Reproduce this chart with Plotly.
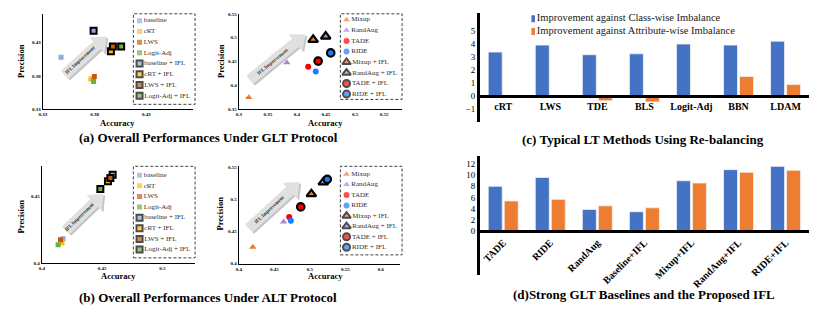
import math
import plotly.graph_objects as go

W, H = 830, 312
SERIF = "Liberation Serif"

# ---------------- DATA ----------------
sq_methods = ["baseline", "cRT", "LWS", "Logit-Adj",
              "baseline + IFL", "cRT + IFL", "LWS + IFL", "Logit-Adj + IFL"]
aug_methods = ["Mixup", "RandAug", "TADE", "RIDE",
               "Mixup + IFL", "RandAug + IFL", "TADE + IFL", "RIDE + IFL"]

# (a) GLT protocol
glt_sq_acc = [0.3476, 0.3764, 0.3797, 0.3790, 0.3790, 0.3957, 0.3976, 0.4056]
glt_sq_prec = [0.4080, 0.3752, 0.3790, 0.3717, 0.4476, 0.4168, 0.4241, 0.4241]
glt_aug_acc = [0.3170, 0.3827, 0.4194, 0.4324, 0.4279, 0.4495, 0.4365, 0.4581]
glt_aug_prec = [0.3747, 0.4475, 0.4393, 0.4290, 0.4958, 0.5026, 0.4510, 0.4681]

# (b) ALT protocol
alt_sq_acc = [0.4176, 0.4168, 0.4155, 0.4135, 0.4587, 0.4548, 0.4568, 0.4485]
alt_sq_prec = [0.4179, 0.4147, 0.4171, 0.4135, 0.4657, 0.4608, 0.4632, 0.4551]
alt_aug_acc = [0.4196, 0.4629, 0.4709, 0.4732, 0.5021, 0.5189, 0.4871, 0.5245]
alt_aug_prec = [0.4260, 0.4654, 0.4730, 0.4671, 0.5087, 0.5271, 0.4888, 0.5317]

# (c) re-balancing methods
lt_methods = ["cRT", "LWS", "TDE", "BLS", "Logit-Adj", "BBN", "LDAM"]
class_impr = [3.38, 3.92, 3.18, 3.25, 4.0, 3.92, 4.22]
attr_impr = [-0.15, 0.0, -0.37, -0.45, 0.0, 1.5, 0.88]
bar_series_c = ["Improvement against Class-wise Imbalance",
                "Improvement against Attribute-wise Imbalance"]

# (d) strong GLT baselines and IFL
glt_methods_d = ["TADE", "RIDE", "RandAug", "Baseline+IFL", "Mixup+IFL", "RandAug+IFL", "RIDE+IFL"]
class_d = [7.96, 9.52, 3.87, 3.46, 8.94, 10.9, 11.48]
attr_d = [5.37, 5.65, 4.5, 4.15, 8.54, 10.44, 10.79]

titles = ["(a) Overall Performances Under GLT Protocol",
          "(b) Overall Performances Under ALT Protocol",
          "(c) Typical LT Methods Using Re-balancing",
          "(d)Strong GLT Baselines and the Proposed IFL"]

# ---------------- STYLE ----------------
SQ_COLORS = ["#8FAADC", "#FFC000", "#C55A11", "#70AD47"]
AUG_COLORS = ["#ED7D31", "#B084DD", "#FF0000", "#1E7BFF"]
AUG_SYMBOLS = ["triangle-up", "triangle-up", "circle", "circle"]
BLUE, ORANGE = "#4472C4", "#ED7D31"


def px(x):
    return x / W


def py(y):
    return 1 - y / H


def sq_style():
    return (["square"] * 8, SQ_COLORS * 2, [5] * 4 + [6] * 4, [0] * 4 + [2] * 4)


def aug_style():
    return (AUG_SYMBOLS * 2, AUG_COLORS * 2,
            [6.5, 6.5, 6, 6, 8.5, 8.5, 7.5, 7.5],
            [0, 0, 0, 0, 2.2, 2.2, 2.2, 2.2])


fig = go.Figure()
layout = dict(width=W, height=H, margin=dict(l=0, r=0, t=0, b=0),
              paper_bgcolor="white", plot_bgcolor="rgba(0,0,0,0)",
              showlegend=False, font=dict(family=SERIF, color="black"),
              bargap=0.32, bargroupgap=0.125)
shapes, annotations = [], []

scatter_panels = [
    dict(i=1, xd=(39, 190), yd=(12, 109), xr=(0.33, 0.475), yr=(0.33, 0.473),
         xt=[0.33, 0.38, 0.43], yt=[0.33, 0.38, 0.43],
         xs=glt_sq_acc, ys=glt_sq_prec, kind="sq", names=sq_methods,
         leg=(130, 192, 12, 104), leg_first=19, leg_step=10.9,
         arrow=((61, 74), (103, 35)), acc=(114, 123), prec=(17, 60)),
    dict(i=2, xd=(236, 400), yd=(12, 109), xr=(0.3, 0.581), yr=(0.35, 0.55),
         xt=[0.3, 0.35, 0.4, 0.45, 0.5, 0.55], yt=[0.35, 0.4, 0.45, 0.5, 0.55],
         xs=glt_aug_acc, ys=glt_aug_prec, kind="aug", names=aug_methods,
         leg=(338, 400, 12, 99), leg_first=18, leg_step=10.8,
         arrow=((247, 79), (303, 33)), acc=(323, 123), prec=(218, 60)),
    dict(i=3, xd=(38, 192), yd=(167, 265), xr=(0.4, 0.527), yr=(0.4, 0.472),
         xt=[0.4, 0.45, 0.5], yt=[0.4, 0.45],
         xs=alt_sq_acc, ys=alt_sq_prec, kind="sq", names=sq_methods,
         leg=(130, 192, 167, 260), leg_first=176, leg_step=10.8,
         arrow=((62, 232), (100, 195)), acc=(115, 278), prec=(17, 218)),
    dict(i=4, xd=(236, 398), yd=(167, 266), xr=(0.4, 0.627), yr=(0.4, 0.552),
         xt=[0.4, 0.45, 0.5, 0.55, 0.6], yt=[0.4, 0.45, 0.5, 0.55],
         xs=alt_aug_acc, ys=alt_aug_prec, kind="aug", names=aug_methods,
         leg=(338, 400, 167, 257), leg_first=175, leg_step=10.6,
         arrow=((246, 230), (297, 183)), acc=(323, 278), prec=(217, 215)),
]

tickfont_sc = dict(family=SERIF, size=5, color="black", weight="bold")
axtitle_font = dict(family=SERIF, size=8.5, color="black")

for p in scatter_panels:
    i = p["i"]
    sym, col, size, lw = sq_style() if p["kind"] == "sq" else aug_style()
    fig.add_trace(go.Scatter(
        x=p["xs"], y=p["ys"], mode="markers", xaxis=f"x{i}", yaxis=f"y{i}",
        marker=dict(symbol=sym, color=col, size=size, opacity=1,
                    line=dict(color="black", width=lw)),
        hoverinfo="skip"))
    layout[f"xaxis{i}"] = dict(
        domain=[px(p["xd"][0]), px(p["xd"][1])], anchor=f"y{i}",
        range=list(p["xr"]), tickvals=p["xt"], showline=True, linecolor="black",
        linewidth=1.3, showgrid=False, zeroline=False, ticks="",
        tickfont=tickfont_sc)
    layout[f"yaxis{i}"] = dict(
        domain=[py(p["yd"][1]), py(p["yd"][0])], anchor=f"x{i}",
        range=list(p["yr"]), tickvals=p["yt"], showline=True, linecolor="black",
        linewidth=1.3, showgrid=False, zeroline=False, ticks="",
        tickfont=tickfont_sc)
    # axis titles
    annotations.append(dict(x=px(p["acc"][0]), y=py(p["acc"][1]), xref="paper", yref="paper",
                            xanchor="center", yanchor="middle", showarrow=False,
                            text="<b>Accuracy</b>", font=axtitle_font))
    annotations.append(dict(x=px(p["prec"][0]), y=py(p["prec"][1]), xref="paper", yref="paper",
                            xanchor="center", yanchor="middle", showarrow=False, textangle=-90,
                            text="<b>Precision</b>", font=axtitle_font))

    # arrow "IFL Improvement"
    (x0, y0), (x1, y1) = p["arrow"]
    L = math.hypot(x1 - x0, y1 - y0)
    ux, uy = (x1 - x0) / L, (y1 - y0) / L
    nx, ny = -uy, ux
    sw, hw, hl = 5.5, 11, 13
    bx, by = x1 - ux * hl, y1 - uy * hl
    pts = [(x0 + nx * sw, y0 + ny * sw), (bx + nx * sw, by + ny * sw),
           (bx + nx * hw, by + ny * hw), (x1, y1),
           (bx - nx * hw, by - ny * hw), (bx - nx * sw, by - ny * sw),
           (x0 - nx * sw, y0 - ny * sw)]
    for off, fill in ((1.6, "#C4C4C4"), (0, "#E0E0E0")):
        path = "M " + " L ".join(f"{px(a + off):.5f},{py(b + off):.5f}" for a, b in pts) + " Z"
        shapes.append(dict(type="path", path=path, xref="paper", yref="paper",
                           fillcolor=fill, line=dict(width=0), layer="below"))
    mx, my = x0 + ux * (L - hl) / 2, y0 + uy * (L - hl) / 2
    ang = math.degrees(math.atan2(y1 - y0, x1 - x0))
    annotations.append(dict(x=px(mx), y=py(my), xref="paper", yref="paper",
                            xanchor="center", yanchor="middle",
                            text="<b>IFL Improvement</b>", showarrow=False,
                            textangle=ang, font=dict(family=SERIF, size=5, color="#303030")))

    # custom legend (dashed box)
    lx0, lx1, ly0, ly1 = p["leg"]
    j = i + 6
    n = len(p["names"])
    top_i = (ly0 - p["leg_first"]) / p["leg_step"]
    bot_i = (ly1 - p["leg_first"]) / p["leg_step"]
    fig.add_trace(go.Scatter(
        x=[0.1] * n, y=list(range(n)), mode="markers+text", text=p["names"],
        textposition="middle right", xaxis=f"x{j}", yaxis=f"y{j}",
        textfont=dict(family=SERIF, size=7, color="#303030"),
        marker=dict(symbol=sym, color=col,
                    size=[5] * 4 + [6] * 4 if p["kind"] == "sq" else [6, 6, 6, 6, 7.5, 7.5, 7, 7],
                    line=dict(color="black", width=[0] * 4 + [2] * 4)),
        hoverinfo="skip"))
    layout[f"xaxis{j}"] = dict(domain=[px(lx0), px(lx1)], anchor=f"y{j}",
                               range=[0, 1], visible=False)
    layout[f"yaxis{j}"] = dict(domain=[py(ly1), py(ly0)], anchor=f"x{j}",
                               range=[bot_i, top_i], visible=False)
    shapes.append(dict(type="rect", xref="paper", yref="paper",
                       x0=px(lx0), x1=px(lx1), y0=py(ly1), y1=py(ly0),
                       line=dict(color="#404040", width=1, dash="3px,2px")))

# ---------------- BAR PANELS ----------------
bar_panels = [
    dict(i=5, cats=lt_methods, s1=class_impr, s2=attr_impr, yd=(11, 122),
         yr=(-2.0, 6.4), yt=[-1, 0, 1, 2, 3, 4, 5], angle=0),
    dict(i=6, cats=glt_methods_d, s1=class_d, s2=attr_d, yd=(156, 277),
         yr=(-7.65, 13.4), yt=[0, 2, 4, 6, 8, 10, 12], angle=-45),
]
for b in bar_panels:
    i = b["i"]
    for vals, c, nm in ((b["s1"], BLUE, bar_series_c[0]), (b["s2"], ORANGE, bar_series_c[1])):
        fig.add_trace(go.Bar(x=b["cats"], y=vals, name=nm, marker_color=c,
                             marker_line=dict(color="#F2F2F2", width=0.8),
                             xaxis=f"x{i}", yaxis=f"y{i}", hoverinfo="skip"))
    y0p, y1p = py(b["yd"][1]), py(b["yd"][0])
    ymin, ymax = b["yr"]
    zero_pos = y0p + (0 - ymin) / (ymax - ymin) * (y1p - y0p)
    layout[f"xaxis{i}"] = dict(
        domain=[px(478), px(809)], anchor="free", position=zero_pos,
        showline=True, linecolor="black", linewidth=2.5, showgrid=False,
        zeroline=False, ticks="", tickangle=b["angle"],
        tickfont=dict(family=SERIF, size=10, color="black", weight="bold"))
    layout[f"yaxis{i}"] = dict(
        domain=[y0p, y1p], anchor=f"x{i}", range=[ymin, ymax], tickvals=b["yt"],
        showline=True, linecolor="black", linewidth=2.5, showgrid=False,
        zeroline=False, ticks="", tickfont=dict(family=SERIF, size=9, color="black"))

# legend for (c)
fig.add_trace(go.Scatter(
    x=[0.0, 0.0], y=[0, 1], mode="markers+text", text=bar_series_c,
    textposition="middle right", xaxis="x11", yaxis="y11",
    textfont=dict(family=SERIF, size=10.5, color="#202020"),
    marker=dict(symbol="square", size=7, color=[BLUE, ORANGE]), hoverinfo="skip"))
layout["xaxis11"] = dict(domain=[px(530), px(760)], anchor="y11", range=[0, 1], visible=False)
layout["yaxis11"] = dict(domain=[py(37), py(10)], anchor="x11",
                         range=[(37 - 17) / 13, (10 - 17) / 13], visible=False)

# panel titles
for t, (cx, cy) in zip(titles, [(205, 138), (205, 300), (642, 140), (643, 297)]):
    annotations.append(dict(x=px(cx), y=py(cy), xref="paper", yref="paper",
                            xanchor="center", yanchor="middle",
                            text=f"<b>{t}</b>", showarrow=False,
                            font=dict(family=SERIF, size=13, color="black")))

layout["shapes"] = shapes
layout["annotations"] = annotations
fig.update_layout(**layout)
fig.write_html("out.html", config={"displayModeBar": False},
               post_script="document.body.style.margin='0';document.body.style.padding='0';")
